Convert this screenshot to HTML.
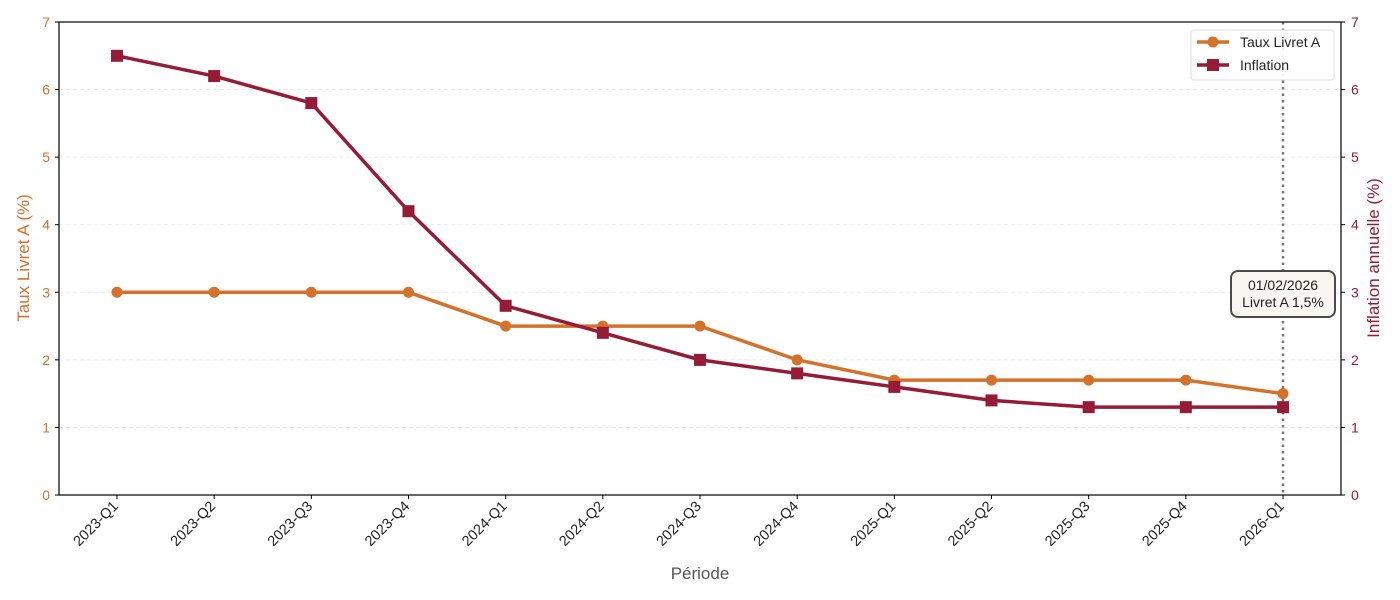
<!DOCTYPE html>
<html><head><meta charset="utf-8"><style>
body{margin:0;background:#fff}
svg{display:block;font-family:"Liberation Sans",sans-serif}
</style></head><body>
<svg id="c" width="1400" height="600" xmlns="http://www.w3.org/2000/svg"></svg>
<script>
const s=document.getElementById('c');let h='';
const L=59,R=1341,T=22,B=495,ky=(B-T)/7;
const X=i=>117+97.1667*i, Y=v=>B-ky*v;
const OR='#D4722A',CR='#961B36';
const liv=[3,3,3,3,2.5,2.5,2.5,2,1.7,1.7,1.7,1.7,1.5];
const inf=[6.5,6.2,5.8,4.2,2.8,2.4,2.0,1.8,1.6,1.4,1.3,1.3,1.3];
const labs=['2023-Q1','2023-Q2','2023-Q3','2023-Q4','2024-Q1','2024-Q2','2024-Q3','2024-Q4','2025-Q1','2025-Q2','2025-Q3','2025-Q4','2026-Q1'];
for(let v=1;v<=6;v++)h+=`<line x1="${L}" x2="${R}" y1="${Y(v)}" y2="${Y(v)}" stroke="#e6e6e6" stroke-dasharray="4,3" stroke-width="0.8"/>`;
for(let v=0;v<=7;v++){
 h+=`<line x1="${L-4}" x2="${L}" y1="${Y(v)}" y2="${Y(v)}" stroke="#000"/><text x="${L-9}" y="${Y(v)+5}" text-anchor="end" font-size="14" fill="${OR}">${v}</text>`;
 h+=`<line x1="${R}" x2="${R+4}" y1="${Y(v)}" y2="${Y(v)}" stroke="#000"/><text x="${R+10}" y="${Y(v)+5}" font-size="14" fill="${CR}">${v}</text>`;
}
labs.forEach((l,i)=>{const x=X(i);h+=`<line x1="${x}" x2="${x}" y1="${B}" y2="${B+4}" stroke="#000"/><text transform="translate(${x+2},${B+12}) rotate(-45)" text-anchor="end" font-size="14.5" fill="#222">${l}</text>`;});
h+=`<line x1="${X(12)}" x2="${X(12)}" y1="${T}" y2="${B}" stroke="#777" stroke-width="2.5" stroke-dasharray="2.5,4"/>`;
h+=`<polyline fill="none" stroke="${OR}" stroke-width="3.5" points="${liv.map((v,i)=>X(i)+','+Y(v)).join(' ')}"/>`;
liv.forEach((v,i)=>h+=`<circle cx="${X(i)}" cy="${Y(v)}" r="5.5" fill="${OR}"/>`);
h+=`<polyline fill="none" stroke="${CR}" stroke-width="3.5" points="${inf.map((v,i)=>X(i)+','+Y(v)).join(' ')}"/>`;
inf.forEach((v,i)=>h+=`<rect x="${X(i)-6}" y="${Y(v)-6}" width="12" height="12" fill="${CR}"/>`);
h+=`<rect x="${L}" y="${T}" width="${R-L}" height="${B-T}" fill="none" stroke="#000" stroke-width="1.2"/>`;
h+=`<rect x="1191" y="30" width="143" height="50" rx="3" fill="#fff" fill-opacity="0.9" stroke="#ddd"/>`;
h+=`<line x1="1197" x2="1229" y1="42" y2="42" stroke="${OR}" stroke-width="3.5"/><circle cx="1213" cy="42" r="5.5" fill="${OR}"/><text x="1240" y="47" font-size="14" fill="#222">Taux Livret A</text>`;
h+=`<line x1="1197" x2="1229" y1="65" y2="65" stroke="${CR}" stroke-width="3.5"/><rect x="1207" y="59" width="12" height="12" fill="${CR}"/><text x="1240" y="70" font-size="14" fill="#222">Inflation</text>`;
h+=`<rect x="1231" y="271" width="104" height="46" rx="7" fill="#f8f6f0" stroke="#4a4a4a" stroke-width="2"/>`;
h+=`<text x="1283" y="290" text-anchor="middle" font-size="14" fill="#222">01/02/2026</text><text x="1283" y="307" text-anchor="middle" font-size="14" fill="#222">Livret A 1,5%</text>`;
h+=`<text x="700" y="579" text-anchor="middle" font-size="17" fill="#555">Période</text>`;
h+=`<text transform="translate(29,258) rotate(-90)" text-anchor="middle" font-size="17" fill="${OR}">Taux Livret A (%)</text>`;
h+=`<text transform="translate(1379,258) rotate(-90)" text-anchor="middle" font-size="17" fill="${CR}">Inflation annuelle (%)</text>`;
s.innerHTML=h;
</script>
</body></html>
